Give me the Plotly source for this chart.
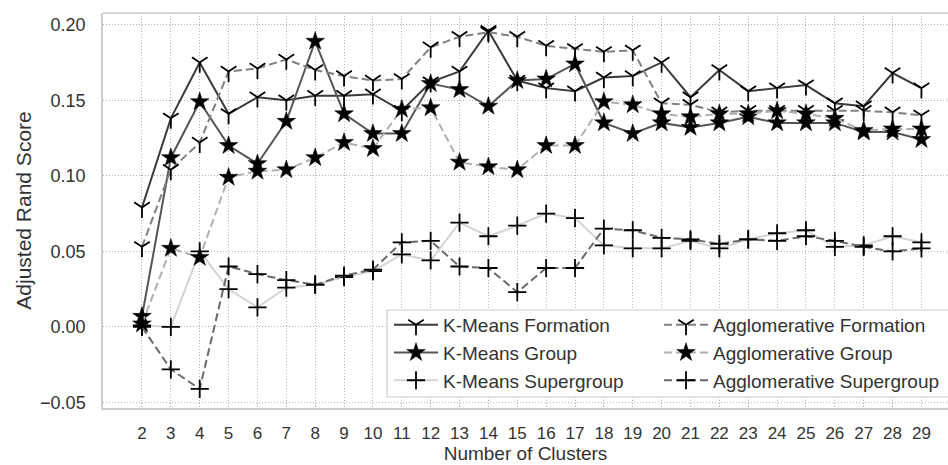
import plotly.graph_objects as go

clusters = list(range(2, 30))

kmeans_formation = [0.079, 0.138, 0.175, 0.141, 0.152, 0.150, 0.153, 0.153, 0.154, 0.143,
                    0.162, 0.169, 0.196, 0.163, 0.158, 0.156, 0.165, 0.166, 0.175, 0.152,
                    0.170, 0.156, 0.158, 0.160, 0.148, 0.146, 0.168, 0.158]
kmeans_group = [0.007, 0.112, 0.149, 0.120, 0.108, 0.136, 0.189, 0.141, 0.128, 0.128,
                0.161, 0.157, 0.146, 0.163, 0.164, 0.174, 0.135, 0.128, 0.135, 0.132,
                0.135, 0.139, 0.135, 0.135, 0.135, 0.129, 0.129, 0.124]
kmeans_supergroup = [0.001, 0.000, 0.050, 0.025, 0.013, 0.026, 0.028, 0.033, 0.037, 0.048,
                     0.044, 0.069, 0.060, 0.067, 0.075, 0.072, 0.054, 0.052, 0.052, 0.057,
                     0.052, 0.058, 0.062, 0.064, 0.053, 0.054, 0.060, 0.056]
agglo_formation = [0.053, 0.104, 0.122, 0.169, 0.171, 0.177, 0.170, 0.166, 0.163, 0.164,
                   0.185, 0.192, 0.195, 0.192, 0.186, 0.184, 0.182, 0.183, 0.148, 0.147,
                   0.142, 0.143, 0.143, 0.143, 0.143, 0.143, 0.142, 0.140]
agglo_group = [0.002, 0.052, 0.046, 0.099, 0.103, 0.104, 0.112, 0.122, 0.118, 0.144,
               0.145, 0.109, 0.106, 0.104, 0.120, 0.120, 0.149, 0.147, 0.141, 0.139,
               0.141, 0.141, 0.143, 0.141, 0.138, 0.130, 0.131, 0.131]
agglo_supergroup = [0.000, -0.028, -0.041, 0.040, 0.035, 0.031, 0.028, 0.034, 0.038, 0.056,
                    0.057, 0.040, 0.039, 0.023, 0.039, 0.039, 0.065, 0.064, 0.059, 0.058,
                    0.055, 0.058, 0.057, 0.060, 0.057, 0.053, 0.050, 0.052]

series = [
    ("K-Means Formation", kmeans_formation, "#3a3a3a", "solid", "y-down", "legend"),
    ("K-Means Group", kmeans_group, "#555555", "solid", "star", "legend"),
    ("K-Means Supergroup", kmeans_supergroup, "#d4d4d4", "solid", "cross-thin", "legend"),
    ("Agglomerative Formation", agglo_formation, "#808080", "8px,4px", "y-down", "legend2"),
    ("Agglomerative Group", agglo_group, "#b0b0b0", "8px,4px", "star", "legend2"),
    ("Agglomerative Supergroup", agglo_supergroup, "#6a6a6a", "8px,4px", "cross-thin", "legend2"),
]

fig = go.Figure()
for name, vals, color, dash, sym, leg in series:
    if sym == "star":
        marker = dict(symbol="star", size=14, color="black", line=dict(width=0.5, color="black"))
    else:
        marker = dict(symbol=sym, size=13, color="black", line=dict(width=1.8, color="black"))
    fig.add_trace(go.Scatter(
        x=clusters, y=vals, name=name, mode="lines+markers",
        line=dict(color=color, width=2, dash=dash),
        marker=marker, legend=leg, legendgroup=name,
    ))

W, H = 948, 465
L, T, B = 103, 13, 57
pw, ph = W - L, H - T - B

def px_x(x):
    return (x - L) / pw

def px_y(y):
    return (H - B - y) / ph

font = "Liberation Sans, Arial, sans-serif"
grid = dict(showgrid=True, gridcolor="#b4b4b4", griddash="1px,2px", gridwidth=1,
            zeroline=False, showline=True, linecolor="#cccccc", linewidth=1.5, ticks="")

fig.update_layout(
    width=W, height=H,
    margin=dict(l=L, r=0, t=T, b=B),
    paper_bgcolor="white", plot_bgcolor="white",
    font=dict(family=font, size=18, color="#333333"),
    showlegend=True,
    legend=dict(x=px_x(389), y=px_y(306), xanchor="left", yanchor="top",
                bgcolor="rgba(0,0,0,0)", font=dict(size=19, color="#333333"),
                traceorder="grouped", tracegroupgap=0, itemwidth=44),
    legend2=dict(x=px_x(659), y=px_y(306), xanchor="left", yanchor="top",
                 bgcolor="rgba(0,0,0,0)", font=dict(size=19, color="#333333"),
                 traceorder="grouped", tracegroupgap=0, itemwidth=44),
    xaxis=dict(range=[0.65, 29.92], tickvals=clusters, ticklabelstandoff=9,
               tickfont=dict(size=17),
               title=dict(text="Number of Clusters", standoff=3, font=dict(size=19)),
               **grid),
    yaxis=dict(range=[-0.0536, 0.2077], tickvals=[-0.05, 0.0, 0.05, 0.10, 0.15, 0.20],
               tickformat=".2f", ticklabelstandoff=12,
               title=dict(text="Adjusted Rand Score", standoff=3, font=dict(size=21)),
               **grid),
    shapes=[
        dict(type="line", xref="paper", yref="paper", x0=0, x1=1.01, y0=1, y1=1,
             line=dict(color="#cccccc", width=1.5), layer="above"),
        dict(type="rect", xref="paper", yref="paper",
             x0=px_x(387), x1=1.02, y0=px_y(397), y1=px_y(310),
             fillcolor="white", line=dict(color="#cccccc", width=1.2), layer="above"),
    ],
)

fig.write_html("out.html")
